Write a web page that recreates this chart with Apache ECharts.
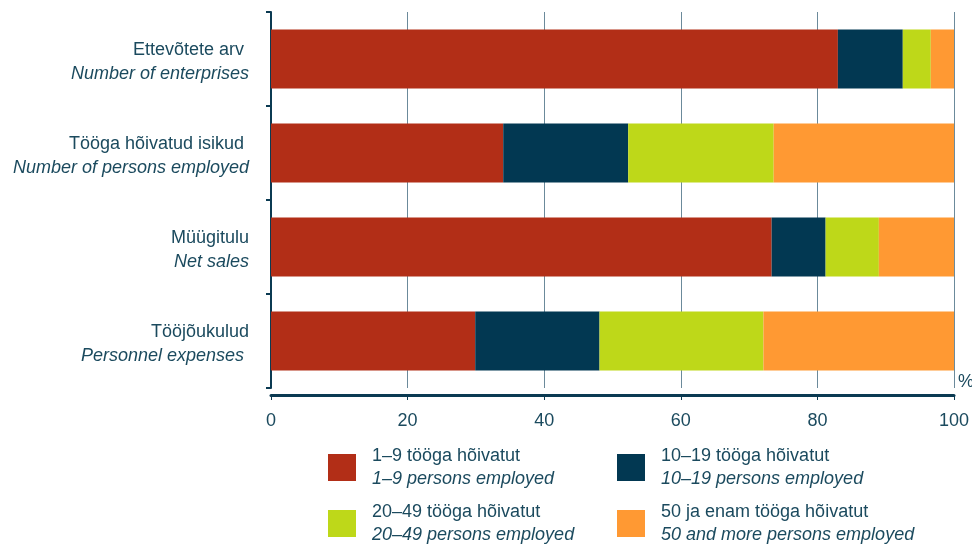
<!DOCTYPE html>
<html>
<head>
<meta charset="utf-8">
<script src="https://cdn.jsdelivr.net/npm/echarts@6/dist/echarts.min.js"></script>
<style>
  html, body { margin: 0; padding: 0; background: #fff; }
  #chart { width: 972px; height: 544px; }
</style>
</head>
<body>
<div id="chart"></div>
<script>
// kategooriad (eesti / inglise)
const categoriesEt = ['Ettevõtete arv ', 'Tööga hõivatud isikud ', 'Müügitulu', 'Tööjõukulud'];
const categoriesEn = ['Number of enterprises', 'Number of persons employed', 'Net sales', 'Personnel expenses '];

// osakaalud, %
const size1to9 = [83.0, 34.0, 73.3, 29.9];
const size10to19 = [9.5, 18.3, 7.9, 18.2];
const size20to49 = [4.1, 21.3, 7.8, 24.0];
const size50plus = [3.4, 26.4, 11.0, 27.9];

const seriesNamesEt = ['1–9 tööga hõivatut', '10–19 tööga hõivatut', '20–49 tööga hõivatut', '50 ja enam tööga hõivatut'];
const seriesNamesEn = ['1–9 persons employed', '10–19 persons employed', '20–49 persons employed', '50 and more persons employed'];

const colors = ['#B22E17', '#023852', '#BED819', '#FF9933'];
const textColor = '#1B4A5E';
const font = '"Liberation Sans", Arial, sans-serif';
const fs = 18;

const seriesData = [size1to9, size10to19, size20to49, size50plus];
const seriesKeys = seriesNamesEt.map((n, i) => n + '\n' + seriesNamesEn[i]);

const chart = echarts.init(document.getElementById('chart'));

// legendid paigutan ükshaaval, et veerud oleks joondatud
const legendPos = [[328, 447], [617, 447], [328, 503], [617, 503]];
const legends = seriesKeys.map((k, i) => ({
    data: [k],
    left: legendPos[i][0],
    top: legendPos[i][1],
    padding: 0,
    orient: 'horizontal',
    itemWidth: 28,
    itemHeight: 27,
    itemGap: 0,
    selectedMode: false,
    icon: 'rect',
    textStyle: {
        padding: [0, 0, 0, 11],
        rich: {
            a: { fontSize: fs, fontFamily: font, color: textColor, lineHeight: 23 },
            b: { fontSize: fs, fontFamily: font, color: textColor, lineHeight: 23, fontStyle: 'italic' }
        }
    },
    formatter: (name) => {
        const parts = name.split('\n');
        return '{a|' + parts[0] + '}\n{b|' + parts[1] + '}';
    }
}));

chart.setOption({
    animation: false,
    color: colors,
    legend: legends,
    grid: { left: 271, right: 18, top: 12, bottom: 156, containLabel: false, outerBoundsMode: 'none' },
    xAxis: {
        type: 'value',
        min: 0,
        max: 100,
        interval: 20,
        offset: 7,
        name: '%',
        nameLocation: 'end',
        nameGap: 4,
        nameTextStyle: {
            color: textColor, fontSize: fs, fontFamily: font,
            align: 'left', verticalAlign: 'bottom', padding: [0, 0, 4, 0]
        },
        axisLine: { show: true, lineStyle: { color: '#0B3A52', width: 3 } },
        axisTick: { show: true, length: 5, lineStyle: { color: '#0B3A52', width: 1 } },
        axisLabel: { color: textColor, fontSize: fs, fontFamily: font, margin: 17 },
        splitLine: { show: true, lineStyle: { color: '#6B8A9B', width: 1 } }
    },
    yAxis: {
        type: 'category',
        inverse: true,
        data: categoriesEt,
        offset: 5,
        axisLine: { show: true, lineStyle: { color: '#0B3A52', width: 2 } },
        axisTick: { show: true, length: 5, lineStyle: { color: '#0B3A52', width: 2 } },
        axisLabel: {
            margin: 17,
            align: 'right',
            padding: [6, 0, 0, 0],
            formatter: (v, i) => '{a|' + v + '}\n{b|' + categoriesEn[i] + '}',
            rich: {
                a: { fontSize: fs, fontFamily: font, color: textColor, lineHeight: 24, align: 'right' },
                b: { fontSize: fs, fontFamily: font, color: textColor, lineHeight: 24, fontStyle: 'italic', align: 'right' }
            }
        }
    },
    series: seriesKeys.map((k, i) => ({
        name: k,
        type: 'bar',
        stack: 'total',
        barCategoryGap: '37%',
        data: seriesData[i],
        itemStyle: { color: colors[i] }
    }))
});
</script>
</body>
</html>
